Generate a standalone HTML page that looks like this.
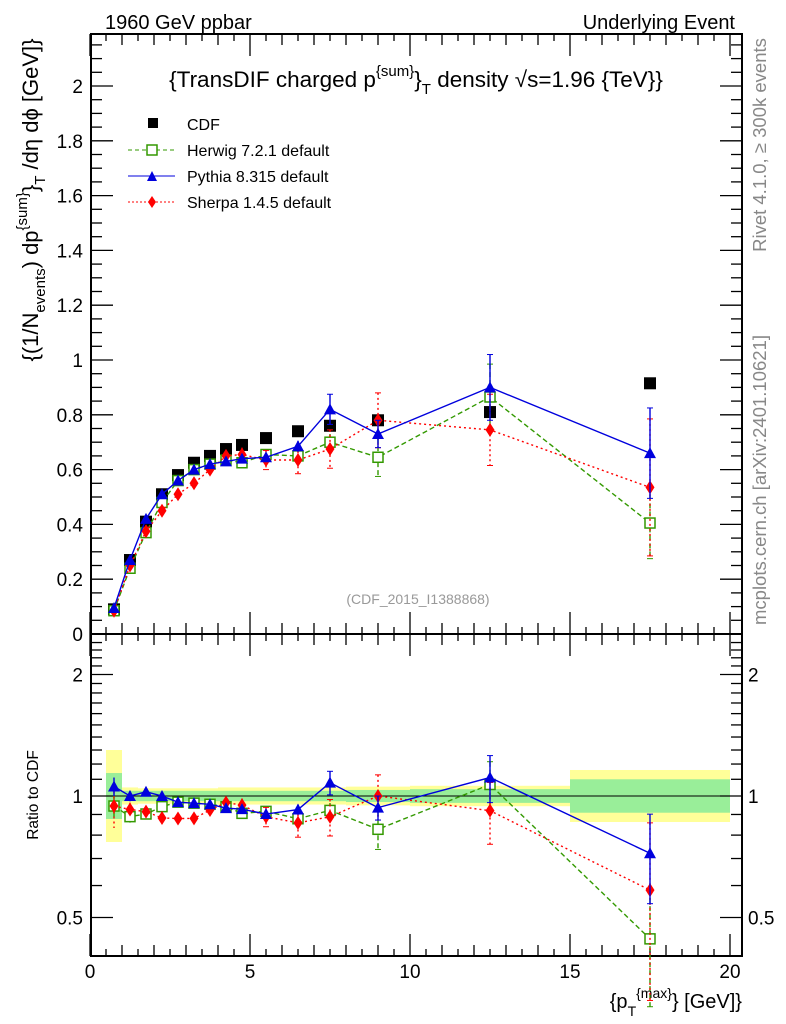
<!DOCTYPE html>
<html><head><meta charset="utf-8"><style>
body{margin:0;background:#fff}
svg{display:block;font-family:"Liberation Sans",sans-serif}
</style></head><body>
<svg id="c" width="786" height="1024" viewBox="0 0 786 1024">
<text x="105" y="29" font-size="20">1960 GeV ppbar</text>
<text x="735" y="29" font-size="20" text-anchor="end">Underlying Event</text>
<text x="416" y="87" font-size="22.5" text-anchor="middle">{TransDIF charged p<tspan dy="-11" font-size="15">{sum}</tspan><tspan dy="11">}</tspan><tspan dy="7" font-size="15">T</tspan><tspan dy="-7"> density √s=1.96 {TeV}}</tspan></text>
<text x="418" y="604" font-size="14" fill="#999" text-anchor="middle">(CDF_2015_I1388868)</text>
<text transform="translate(766,145) rotate(-90)" font-size="18.5" fill="#888" text-anchor="middle">Rivet 4.1.0, ≥ 300k events</text>
<text transform="translate(766,480) rotate(-90)" font-size="18.5" fill="#888" text-anchor="middle">mcplots.cern.ch [arXiv:2401.10621]</text>
<text transform="translate(38,200) rotate(-90)" font-size="22" text-anchor="middle">{(1/N<tspan dy="7" font-size="15">events</tspan><tspan dy="-7">) dp</tspan><tspan dy="-11" font-size="15">{sum}</tspan><tspan dy="11">}</tspan><tspan dy="7" font-size="15">T</tspan><tspan dy="-7"> /dη  dϕ [GeV]}</tspan></text>
<text transform="translate(38,795) rotate(-90)" font-size="15.5" text-anchor="middle">Ratio to CDF</text>
<text x="742" y="1008" font-size="20" text-anchor="end">{p<tspan dy="8" font-size="14">T</tspan><tspan dy="-18" font-size="14">{max}</tspan><tspan dy="10">} [GeV]}</tspan></text>
<g id="legend">
<g><rect x="148" y="118" width="10" height="10" fill="#000"/><text x="187" y="130" font-size="16">CDF</text></g>
<g><line x1="128" y1="150" x2="175" y2="150" stroke="#339900" stroke-dasharray="4,3"/><rect x="147" y="145" width="10" height="10" fill="#fff" stroke="#339900" stroke-width="1.5"/><text x="187" y="156" font-size="16">Herwig 7.2.1 default</text></g>
<g><line x1="128" y1="176" x2="175" y2="176" stroke="#0000dd"/><path d="M147 181 L152 171 L157 181Z" fill="#0000dd"/><text x="187" y="182" font-size="16">Pythia 8.315 default</text></g>
<g><line x1="128" y1="202" x2="175" y2="202" stroke="#ff0000" stroke-dasharray="2,2"/><path d="M152 196 L156 202 L152 208 L148 202Z" fill="#ff0000"/><text x="187" y="208" font-size="16">Sherpa 1.4.5 default</text></g>
</g>
<g id="plot"></g>
</svg>
<script>
const xs=[0.75,1.25,1.75,2.25,2.75,3.25,3.75,4.25,4.75,5.5,6.5,7.5,9,12.5,17.5];
const binEdges=[0.5,1,1.5,2,2.5,3,3.5,4,4.5,5,6,7,8,10,15,20];
const cdf=[0.09,0.27,0.41,0.51,0.58,0.625,0.65,0.675,0.69,0.715,0.74,0.76,0.78,0.81,0.915];
const cdfTot=[0.30,0.05,0.045,0.045,0.045,0.045,0.045,0.05,0.05,0.05,0.05,0.05,0.055,0.06,0.16];
const cdfStat=[0.14,0.03,0.03,0.03,0.03,0.03,0.03,0.03,0.03,0.03,0.03,0.03,0.035,0.04,0.1];
const herwig=[0.085,0.24,0.37,0.48,0.56,0.60,0.62,0.635,0.625,0.655,0.65,0.70,0.645,0.865,0.405];
const herwigErr=[0.005,0.008,0.01,0.01,0.01,0.01,0.01,0.01,0.01,0.015,0.02,0.03,0.07,0.12,0.13];
const pythia=[0.095,0.27,0.42,0.51,0.56,0.60,0.62,0.63,0.64,0.645,0.685,0.82,0.73,0.90,0.66];
const pythiaErr=[0.005,0.008,0.01,0.01,0.01,0.01,0.01,0.01,0.01,0.015,0.02,0.055,0.05,0.12,0.165];
const sherpa=[0.085,0.25,0.375,0.45,0.51,0.55,0.60,0.65,0.655,0.635,0.635,0.675,0.78,0.745,0.535];
const sherpaErr=[0.01,0.01,0.01,0.01,0.01,0.01,0.015,0.02,0.025,0.035,0.05,0.07,0.1,0.13,0.25];
const mainTicks=[0,0.2,0.4,0.6,0.8,1,1.2,1.4,1.6,1.8,2];
const mainTickLabels=["0","0.2","0.4","0.6","0.8","1","1.2","1.4","1.6","1.8","2"];
const xTicks=[0,5,10,15,20];
const xTickLabels=["0","5","10","15","20"];
const ratioTicks=[0.5,1,2];
const ratioTickLabels=["0.5","1","2"];

const NS="http://www.w3.org/2000/svg";
const L=91,R=742,T=34,MB=634,RB=956;
const X=v=>90+32*v;
const Y=v=>MB-274*v;
const RY=r=>796-121.5*Math.log2(r);
const g=document.getElementById('plot');
function el(tag,attrs,parent){const e=document.createElementNS(NS,tag);for(const k in attrs)e.setAttribute(k,attrs[k]);(parent||g).appendChild(e);return e;}

const bands=el('g',{});


for(let i=0;i<xs.length;i++){
  const x0=X(binEdges[i]),x1=X(binEdges[i+1]);
  const t=cdfTot[i], s=cdfStat[i];
  const r1=el('rect',{x:x0,y:RY(1+t),width:x1-x0,height:RY(1/(1+t))-RY(1+t),fill:'#ffff99'},bands);
  
  
  const r2=el('rect',{x:x0,y:RY(1+s),width:x1-x0,height:RY(1/(1+s))-RY(1+s),fill:'#99ee99'},bands);
  
  
}
const one=el('line',{x1:L,x2:R,y1:RY(1),y2:RY(1),stroke:'#000','stroke-width':1});



function frame(top,bot,name){
  const f=el('rect',{x:L,y:top,width:R-L,height:bot-top,fill:'none',stroke:'#000','stroke-width':2});
  
  
  for(let v=0;v<=20.3;v+=0.5){
    const major=Math.abs(v%5)<1e-6, len=major?22:(Math.abs(v%1)<1e-6?11:7);
    el('line',{x1:X(v),x2:X(v),y1:bot,y2:bot-len,stroke:'#000','stroke-width':1.3});
    el('line',{x1:X(v),x2:X(v),y1:top,y2:top+len,stroke:'#000','stroke-width':1.3});
  }
}
frame(T,MB,'main-plot-frame');
frame(MB,RB,'ratio-plot-frame');
for(let v=0;v<=2.17;v+=0.05){
  const k=Math.round(v*100)%20===0, len=k?22:11;
  el('line',{x1:L,x2:L+len,y1:Y(v),y2:Y(v),stroke:'#000','stroke-width':1.3});
  el('line',{x1:R,x2:R-len,y1:Y(v),y2:Y(v),stroke:'#000','stroke-width':1.3});
}
mainTicks.forEach((v,i)=>{
  const t=el('text',{x:83,y:Y(v)+7,'font-size':19,'text-anchor':'end'});t.textContent=mainTickLabels[i];
  
  
});
const rMinor=[0.5,0.6,0.7,0.8,0.9,1,1.1,1.2,1.3,1.4,1.5,1.6,1.7,1.8,1.9,2,2.1,2.2,2.3,2.4];
rMinor.forEach(r=>{
  const len=(r===0.5||r===1||r===2)?22:11;
  el('line',{x1:L,x2:L+len,y1:RY(r),y2:RY(r),stroke:'#000','stroke-width':1.3});
  el('line',{x1:R,x2:R-len,y1:RY(r),y2:RY(r),stroke:'#000','stroke-width':1.3});
});
ratioTicks.forEach((r,i)=>{
  const t=el('text',{x:83,y:RY(r)+7,'font-size':19,'text-anchor':'end'});t.textContent=ratioTickLabels[i];
  
  
  const t2=el('text',{x:748,y:RY(r)+7,'font-size':19});t2.textContent=ratioTickLabels[i];
  
  
});
xTicks.forEach((v,i)=>{
  const t=el('text',{x:X(v),y:978,'font-size':19,'text-anchor':'middle'});t.textContent=xTickLabels[i];
  
  
});

function marker(type,cx,cy,color,parent){
  if(type==='sq') return el('rect',{x:cx-5,y:cy-5,width:10,height:10,fill:'#fff',stroke:color,'stroke-width':1.5},parent);
  if(type==='tri') return el('path',{d:`M${cx-6} ${cy+5}L${cx} ${cy-6}L${cx+6} ${cy+5}Z`,fill:color},parent);
  if(type==='dia') return el('path',{d:`M${cx} ${cy-7}L${cx+4.5} ${cy}L${cx} ${cy+7}L${cx-4.5} ${cy}Z`,fill:color},parent);
  return el('rect',{x:cx-6,y:cy-6,width:12,height:12,fill:color},parent);
}
function series(name,vals,errs,color,dash,type,ratio){
  const grp=el('g',{});
  
  
  const yf=ratio?(v,i)=>RY(v/cdf[i]):(v)=>Y(v);
  const pts=vals.map((v,i)=>X(xs[i])+','+yf(v,i)).join(' ');
  const pl=el('polyline',{points:pts,fill:'none',stroke:color,'stroke-width':1.4,'stroke-dasharray':dash},grp);
  
  
  vals.forEach((v,i)=>{
    const x=X(xs[i]);
    const y1=yf(v+errs[i],i),y2=yf(Math.max(v-errs[i],0.001),i);
    el('line',{x1:x,x2:x,y1:y1,y2:y2,stroke:color,'stroke-width':1.4,'stroke-dasharray':dash},grp);
    if(errs[i]>0.03){el('line',{x1:x-3,x2:x+3,y1:y1,y2:y1,stroke:color},grp);el('line',{x1:x-3,x2:x+3,y1:y2,y2:y2,stroke:color},grp);}
    const m=marker(type,x,yf(v,i),color,grp);
    
    
  });
}
const cg=el('g',{});


cdf.forEach((v,i)=>{const m=marker('cdf',X(xs[i]),Y(v),'#000',cg);
  
  });
series('herwig',herwig,herwigErr,'#339900','5,3','sq',false);
series('sherpa',sherpa,sherpaErr,'#ff0000','2,3','dia',false);
series('pythia',pythia,pythiaErr,'#0000dd','','tri',false);
series('herwig',herwig,herwigErr,'#339900','5,3','sq',true);
series('sherpa',sherpa,sherpaErr,'#ff0000','2,3','dia',true);
series('pythia',pythia,pythiaErr,'#0000dd','','tri',true);
</script>
</body></html>
